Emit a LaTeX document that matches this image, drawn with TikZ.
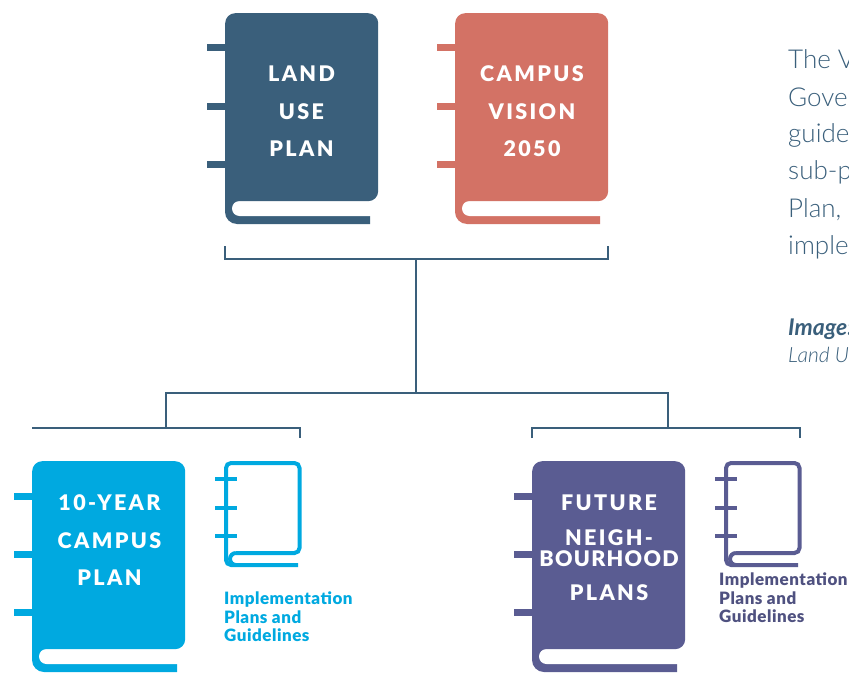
\documentclass[tikz,border=0pt]{standalone}
\usepackage{fontspec}
\setmainfont{Lato}
\newfontfamily\spacedfont[LetterSpace=11]{Lato Black}
\newfontfamily\tightfont[LetterSpace=6]{Lato Black}
\newfontfamily\blackfont[LetterSpace=3]{Lato Black}
\newfontfamily\lightfont{Lato Light}
\usetikzlibrary{positioning}
\definecolor{landcol}{HTML}{3A5F7B}
\definecolor{visioncol}{HTML}{D37265}
\definecolor{campuscol}{HTML}{00A9E0}
\definecolor{futurecol}{HTML}{5A5C92}
\definecolor{labelcol}{HTML}{4F5180}
\tikzset{
    bookbody/.style={rectangle, rounded corners=10pt, minimum width=153pt, minimum height=188pt, inner sep=0pt, anchor=north west},
    booktitle/.style={text=white, font=\spacedfont\fontsize{21.5}{21.5}\selectfont, inner sep=0pt},
    treeline/.style={draw=landcol, line width=1.2pt},
    sublabel/.style={font=\blackfont\fontsize{17}{18.5}\selectfont, align=left, anchor=north west, inner sep=0pt},
    sidetext/.style={text=landcol, anchor=west, inner sep=0pt, font=\lightfont\fontsize{26}{26}\selectfont},
    sidenote/.style={text=landcol, anchor=west, inner sep=0pt, font=\lightfont\itshape\fontsize{21}{21}\selectfont}
}
\newcommand{\bigbook}[4]{
    \begin{scope}[shift={(#2,#3)}]
        \foreach \tabpos in {35,93,151}
            \fill[#4] (-18,\tabpos-3.5) rectangle (1,\tabpos+3.5);
        \fill[#4] (0,150) [rounded corners=12pt] -- (0,211) [sharp corners] -- (145,211) -- (145,203) -- (20,203) -- (20,150) -- cycle;
        \fill[white, rounded corners=7.5pt] (7,188) rectangle (170,203);
        \node[bookbody, fill=#4] (#1) at (0,0) {};
    \end{scope}
}
\newcommand{\smallbook}[3]{
    \begin{scope}[shift={(#1,#2)}]
        \draw[#3, line width=4pt, rounded corners=5pt] (12,92) -- (75.5,92) -- (75.5,2) -- (2,2) -- (2,104) -- (74,104);
        \draw[#3, line width=4pt] (12,92) arc (270:90:6);
        \foreach \tabpos in {18,47,75}
            \fill[#3] (-9,\tabpos-2) rectangle (13,\tabpos+2);
    \end{scope}
}
\begin{document}
\begin{tikzpicture}[x=1pt, y=-1pt]
    \useasboundingbox (0,0) rectangle (849,677);

    \bigbook{landbook}{225}{13}{landcol}
    \bigbook{visionbook}{455}{13}{visioncol}
    \bigbook{campusbook}{32}{461}{campuscol}
    \bigbook{futurebook}{532}{461}{futurecol}
    \smallbook{224}{461}{campuscol}
    \smallbook{724}{461}{futurecol}

    \node[booktitle] (landa) at (301.5,74) {LAND};
    \node[booktitle] (landb) at (301.5,111.5) {USE};
    \node[booktitle] (landc) at (301.5,149) {PLAN};
    \node[booktitle] (visiona) at (532,74) {CAMPUS};
    \node[booktitle] (visionb) at (532,111.5) {VISION};
    \node[booktitle] (visionc) at (532,149) {2050};
    \node[booktitle] (campusa) at (109.5,503) {10-YEAR};
    \node[booktitle] (campusb) at (109.5,541) {CAMPUS};
    \node[booktitle] (campusc) at (109.5,578) {PLAN};
    \node[booktitle] (futurea) at (609,503) {FUTURE};
    \node[booktitle] (futureb) at (609,538) {NEIGH-};
    \node[booktitle, font=\tightfont\fontsize{21.5}{21.5}\selectfont] (futurec) at (609,559) {BOURHOOD};
    \node[booktitle] (futured) at (609,593) {PLANS};

    \node[sublabel, text=campuscol] (campusguide) at (224,592) {Implementation\\Plans and\\Guidelines};
    \node[sublabel, text=labelcol] (futureguide) at (719,573) {Implementation\\Plans and\\Guidelines};

    \node[sidetext] (sidea) at (788,59) {The V};
    \node[sidetext] (sideb) at (788,97) {Gove};
    \node[sidetext] (sidec) at (788,135) {guide};
    \node[sidetext] (sided) at (788,172) {sub-p};
    \node[sidetext] (sidee) at (788,210) {Plan,};
    \node[sidetext] (sidef) at (788,247) {imple};
    \node[sidenote, font=\bfseries\itshape\fontsize{23}{23}\selectfont] (notea) at (788,329) {Image:};
    \node[sidenote] (noteb) at (788,355) {Land U};

    \coordinate (upleft) at (225,246);
    \coordinate (upright) at (608,246);
    \coordinate (upjoin) at (416,259);
    \coordinate (lowjoin) at (416,393);
    \coordinate (campusjoin) at (166,428);
    \coordinate (futurejoin) at (668,428);
    \coordinate (campusend) at (32,428);
    \coordinate (guideend) at (300,438);
    \coordinate (futureend) at (532,438);
    \coordinate (futureguideend) at (800,438);

    \draw[treeline] (upleft) |- (upjoin) -| (upright);
    \draw[treeline] (upjoin) -- (lowjoin);
    \draw[treeline] (campusjoin) |- (lowjoin) -| (futurejoin);
    \draw[treeline] (campusend) -| (guideend);
    \draw[treeline] (futureend) |- (futurejoin) -| (futureguideend);
\end{tikzpicture}
\end{document}
